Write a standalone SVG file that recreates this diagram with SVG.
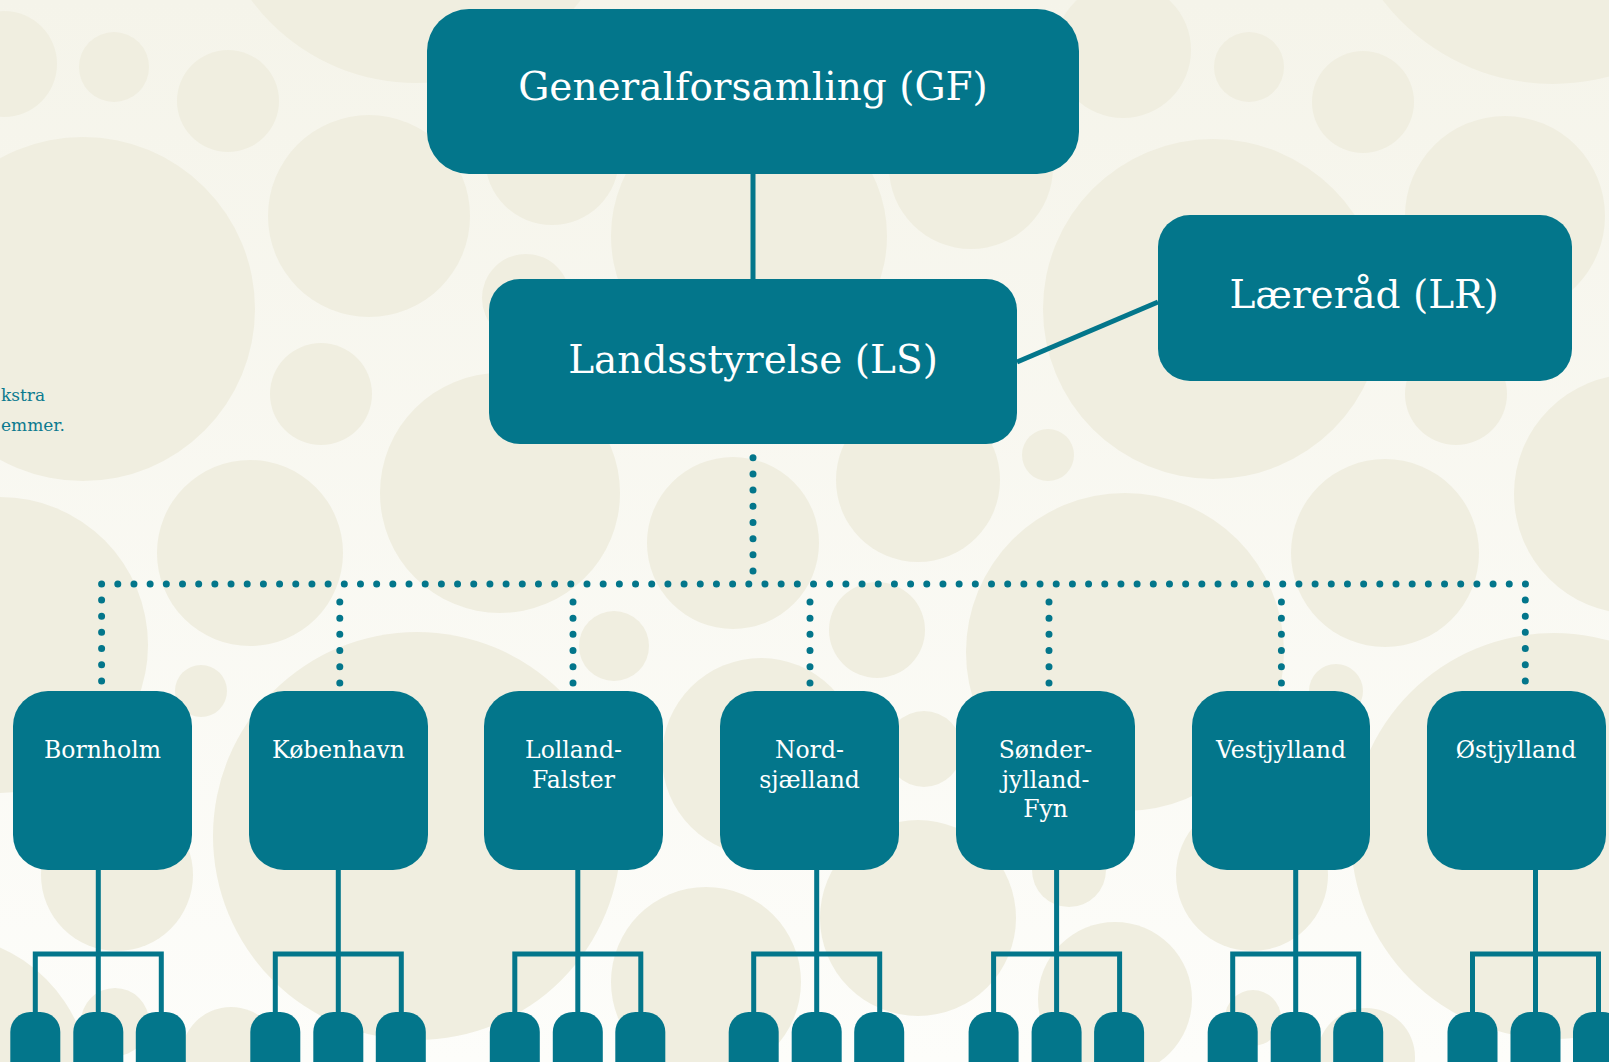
<svg xmlns="http://www.w3.org/2000/svg" width="1609" height="1062" viewBox="0 0 1609 1062">
<defs>
<linearGradient id="bg" x1="0" y1="0" x2="0" y2="1">
<stop offset="0" stop-color="#f5f4ea"/>
<stop offset="1" stop-color="#fdfdfa"/>
</linearGradient>
<style>
.c{fill:#f0eee0}
.box{fill:#03768b}
.t{font-family:"DejaVu Serif","Liberation Serif",serif;fill:#ffffff;text-anchor:middle}
.big{font-size:39px}
.reg{font-size:23.5px}
.solid{stroke:#03768b;stroke-width:5;fill:none;stroke-linejoin:miter;stroke-linecap:butt}
.dot{stroke:#03768b;stroke-width:7;fill:none;stroke-linecap:round;stroke-dasharray:0 16.18}
.side{font-family:"DejaVu Serif","Liberation Serif",serif;font-size:17px;fill:#0b7a8f;text-anchor:start}
</style>
</defs>
<rect width="1609" height="1062" fill="url(#bg)"/>
<g id="background">
<circle class="c" cx="4" cy="64" r="53"/>
<circle class="c" cx="114" cy="67" r="35"/>
<circle class="c" cx="228" cy="101" r="51"/>
<circle class="c" cx="416" cy="-122" r="205"/>
<circle class="c" cx="83" cy="309" r="172"/>
<circle class="c" cx="369" cy="216" r="101"/>
<circle class="c" cx="321" cy="394" r="51"/>
<circle class="c" cx="500" cy="493" r="120"/>
<circle class="c" cx="526" cy="298" r="44"/>
<circle class="c" cx="552" cy="158" r="67"/>
<circle class="c" cx="749" cy="236" r="138"/>
<circle class="c" cx="733" cy="543" r="86"/>
<circle class="c" cx="0" cy="645" r="148"/>
<circle class="c" cx="250" cy="553" r="93"/>
<circle class="c" cx="1123" cy="50" r="68"/>
<circle class="c" cx="1249" cy="67" r="35"/>
<circle class="c" cx="1363" cy="102" r="51"/>
<circle class="c" cx="1553" cy="-131" r="215"/>
<circle class="c" cx="971" cy="167" r="82"/>
<circle class="c" cx="1213" cy="309" r="170"/>
<circle class="c" cx="1505" cy="216" r="100"/>
<circle class="c" cx="1456" cy="394" r="51"/>
<circle class="c" cx="1634" cy="494" r="120"/>
<circle class="c" cx="1048" cy="455" r="26"/>
<circle class="c" cx="918" cy="480" r="82"/>
<circle class="c" cx="1385" cy="553" r="94"/>
<circle class="c" cx="1125" cy="652" r="159"/>
<circle class="c" cx="201" cy="691" r="26"/>
<circle class="c" cx="417" cy="836" r="204"/>
<circle class="c" cx="614" cy="646" r="35"/>
<circle class="c" cx="761" cy="757" r="99"/>
<circle class="c" cx="117" cy="875" r="76"/>
<circle class="c" cx="-60" cy="1085" r="150"/>
<circle class="c" cx="115" cy="1022" r="34"/>
<circle class="c" cx="231" cy="1057" r="50"/>
<circle class="c" cx="706" cy="982" r="95"/>
<circle class="c" cx="877" cy="630" r="48"/>
<circle class="c" cx="924" cy="749" r="38"/>
<circle class="c" cx="1069" cy="870" r="37"/>
<circle class="c" cx="1336" cy="691" r="27"/>
<circle class="c" cx="1252" cy="875" r="76"/>
<circle class="c" cx="1554" cy="836" r="203"/>
<circle class="c" cx="918" cy="918" r="98"/>
<circle class="c" cx="1115" cy="999" r="77"/>
<circle class="c" cx="1253" cy="1018" r="28"/>
<circle class="c" cx="1366" cy="1057" r="49"/>
</g>
<g id="side-text">
<text class="side" x="1" y="401">kstra</text>
<text class="side" x="1" y="431">emmer.</text>
</g>
<g id="connectors">
<path class="solid" d="M753 174 V279"/>
<path class="solid" d="M1017 362 L1158 302" stroke-width="5.5"/>
<path class="dot" d="M753 571 V443"/>
<path class="dot" d="M101.6 584 H1525.5"/>
<path class="dot" d="M101.6 600 V686"/>
<path class="dot" d="M339.8 602 V686"/>
<path class="dot" d="M573 602 V686"/>
<path class="dot" d="M810 602 V686"/>
<path class="dot" d="M1049 602 V690"/>
<path class="dot" d="M1281.4 602 V686"/>
<path class="dot" d="M1525.3 600 V686"/>
<path class="solid" d="M98.3 870 V1015 M35.3 1015 V954 H161.3 V1015"/>
<path class="solid" d="M338.3 870 V1015 M275.3 1015 V954 H401.3 V1015"/>
<path class="solid" d="M577.8 870 V1015 M514.8 1015 V954 H640.8 V1015"/>
<path class="solid" d="M816.7 870 V1015 M753.7 1015 V954 H879.7 V1015"/>
<path class="solid" d="M1056.6 870 V1015 M993.6 1015 V954 H1119.6 V1015"/>
<path class="solid" d="M1295.7 870 V1015 M1232.7 1015 V954 H1358.7 V1015"/>
<path class="solid" d="M1535.5 870 V1015 M1472.5 1015 V954 H1598.5 V1015"/>
</g>
<g id="node-gf">
<rect class="box" x="427" y="9" width="652" height="165" rx="42"/>
<text class="t big" x="753" y="100">Generalforsamling (GF)</text>
</g>
<g id="node-ls">
<rect class="box" x="489" y="279" width="528" height="165" rx="31"/>
<text class="t big" x="753" y="372.5">Landsstyrelse (LS)</text>
</g>
<g id="node-lr">
<rect class="box" x="1158" y="215" width="414" height="166" rx="32"/>
<text class="t big" x="1364" y="308">Læreråd (LR)</text>
</g>
<g id="node-bornholm">
<rect class="box" x="13" y="691" width="179" height="179" rx="35"/>
<text class="t reg" x="102.5" y="758">Bornholm</text>
</g>
<g id="node-koebenhavn">
<rect class="box" x="249" y="691" width="179" height="179" rx="35"/>
<text class="t reg" x="338.5" y="758">København</text>
</g>
<g id="node-lolland-falster">
<rect class="box" x="484" y="691" width="179" height="179" rx="35"/>
<text class="t reg" x="573.5" y="758">Lolland-</text>
<text class="t reg" x="573.5" y="787.5">Falster</text>
</g>
<g id="node-nordsjaelland">
<rect class="box" x="720" y="691" width="179" height="179" rx="35"/>
<text class="t reg" x="809.5" y="758">Nord-</text>
<text class="t reg" x="809.5" y="787.5">sjælland</text>
</g>
<g id="node-soenderjylland-fyn">
<rect class="box" x="956" y="691" width="179" height="179" rx="35"/>
<text class="t reg" x="1045.5" y="758">Sønder-</text>
<text class="t reg" x="1045.5" y="787.5">jylland-</text>
<text class="t reg" x="1045.5" y="817">Fyn</text>
</g>
<g id="node-vestjylland">
<rect class="box" x="1192" y="691" width="178" height="179" rx="35"/>
<text class="t reg" x="1281" y="758">Vestjylland</text>
</g>
<g id="node-oestjylland">
<rect class="box" x="1427" y="691" width="179" height="179" rx="35"/>
<text class="t reg" x="1516" y="758">Østjylland</text>
</g>
<g id="leaf-nodes">
<rect class="box" x="10.3" y="1012" width="50" height="70" rx="20"/>
<rect class="box" x="73.3" y="1012" width="50" height="70" rx="20"/>
<rect class="box" x="135.8" y="1012" width="50" height="70" rx="20"/>
<rect class="box" x="250.3" y="1012" width="50" height="70" rx="20"/>
<rect class="box" x="313.3" y="1012" width="50" height="70" rx="20"/>
<rect class="box" x="375.8" y="1012" width="50" height="70" rx="20"/>
<rect class="box" x="489.8" y="1012" width="50" height="70" rx="20"/>
<rect class="box" x="552.8" y="1012" width="50" height="70" rx="20"/>
<rect class="box" x="615.3" y="1012" width="50" height="70" rx="20"/>
<rect class="box" x="728.7" y="1012" width="50" height="70" rx="20"/>
<rect class="box" x="791.7" y="1012" width="50" height="70" rx="20"/>
<rect class="box" x="854.2" y="1012" width="50" height="70" rx="20"/>
<rect class="box" x="968.6" y="1012" width="50" height="70" rx="20"/>
<rect class="box" x="1031.6" y="1012" width="50" height="70" rx="20"/>
<rect class="box" x="1094.1" y="1012" width="50" height="70" rx="20"/>
<rect class="box" x="1207.7" y="1012" width="50" height="70" rx="20"/>
<rect class="box" x="1270.7" y="1012" width="50" height="70" rx="20"/>
<rect class="box" x="1333.2" y="1012" width="50" height="70" rx="20"/>
<rect class="box" x="1447.5" y="1012" width="50" height="70" rx="20"/>
<rect class="box" x="1510.5" y="1012" width="50" height="70" rx="20"/>
<rect class="box" x="1573" y="1012" width="50" height="70" rx="20"/>
</g>
</svg>
